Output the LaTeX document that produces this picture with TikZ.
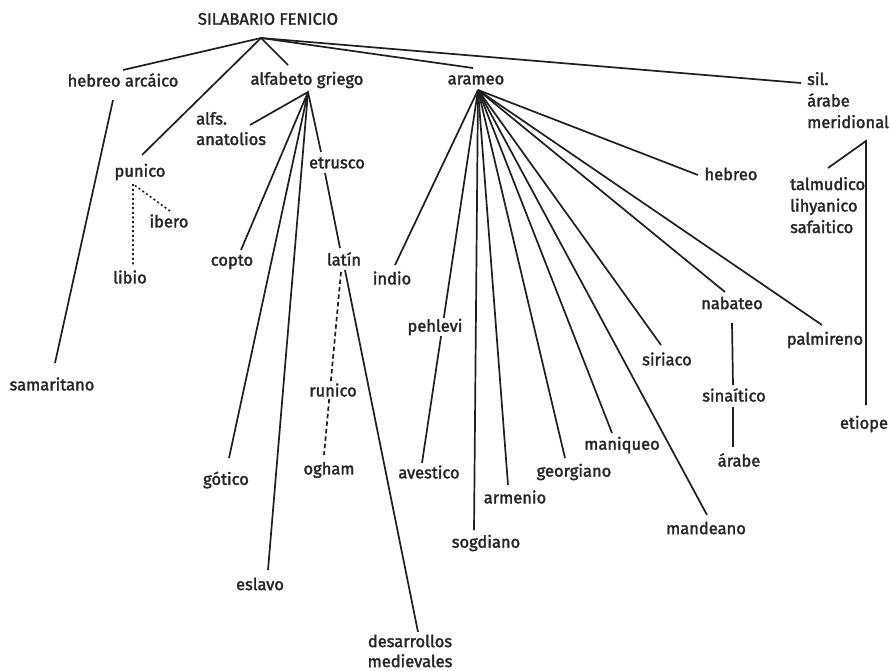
\documentclass[tikz,border=0pt]{standalone}
\usepackage{fontspec}
\setmainfont{Fira Sans}[FakeBold=2]
\begin{document}
\begin{tikzpicture}[x=1pt,y=-1pt]
\tikzset{
  lbl/.style={inner sep=1pt, font=\fontsize{16.5}{21.5}\selectfont, text=black!85},
  lblw/.style={lbl, fill=white},
  ln/.style={line width=1.7pt, draw=black!88},
  dotln/.style={ln, line width=1.6pt, dash pattern=on 2pt off 2.6pt},
  dshln/.style={ln, dash pattern=on 4.5pt off 3pt}
}
\useasboundingbox[fill=white] (0,0) rectangle (891,670);
% hubs and line ends
\coordinate (rootH) at (261,38);
\coordinate (eHebArc) at (123,70);
\coordinate (ePun) at (142,155);
\coordinate (eAlf) at (288,65);
\coordinate (eAra) at (473,68);
\coordinate (eSil) at (801,83);
\coordinate (hebS) at (113,100);
\coordinate (eSam) at (55,363);
\coordinate (punH) at (133,184);
\coordinate (eIbe) at (170,211);
\coordinate (eLib) at (133,266);
\coordinate (alfH) at (308,92);
\coordinate (eAna) at (250,125);
\coordinate (eEtr) at (321,152);
\coordinate (eCop) at (241,250);
\coordinate (eGot) at (229,458);
\coordinate (eEsl) at (268,570);
\coordinate (etrS) at (325,173);
\coordinate (eLat) at (340,248);
\coordinate (latS1) at (345,270);
\coordinate (eDes) at (418,632);
\coordinate (latS2) at (341,272);
\coordinate (eOgh) at (324,455);
\coordinate (araH) at (478,90);
\coordinate (eHeb) at (698,175);
\coordinate (eInd) at (395,265);
\coordinate (eAve) at (422,463);
\coordinate (eSog) at (474,530);
\coordinate (eArm) at (508,485);
\coordinate (eGeo) at (565,458);
\coordinate (eMan) at (612,433);
\coordinate (eSir) at (661,345);
\coordinate (eMnd) at (707,515);
\coordinate (eNab) at (725,292);
\coordinate (ePal) at (822,325);
\coordinate (nabS) at (732,323);
\coordinate (eSin) at (733,385);
\coordinate (sinS) at (733,407);
\coordinate (eArb) at (733,447);
\coordinate (silH) at (866,141);
\coordinate (eTal) at (828,168);
\coordinate (eEti) at (866,405);
% connectors
\draw[ln] (eHebArc) -- (rootH) -- (eAlf);
\draw[ln] (ePun) -- (rootH) -- (eAra);
\draw[ln] (rootH) -- (eSil);
\draw[ln] (hebS) -- (eSam);
\draw[dotln] (eIbe) -- (punH) -- (eLib);
\draw[ln] (eAna) -- (alfH) -- (eEtr);
\draw[ln] (eCop) -- (alfH) -- (eGot);
\draw[ln] (alfH) -- (eEsl);
\draw[ln] (etrS) -- (eLat);
\draw[ln] (latS1) -- (eDes);
\draw[dshln] (latS2) -- (eOgh);
\foreach \e in {eHeb,eInd,eAve,eSog,eArm,eGeo,eMan,eSir,eMnd,eNab,ePal}
  \draw[ln] (araH) -- (\e);
\draw[ln] (nabS) -- (eSin);
\draw[ln] (sinS) -- (eArb);
\draw[ln] (eTal) -- (silH) -- (eEti);
% labels
\node[lbl] (root) at (268,19) {SILABARIO FENICIO};
\node[lbl] (hebArc) at (123,80) {hebreo arcáico};
\node[lbl] (alfGr) at (307,80) {alfabeto griego};
\node[lbl] (arameo) at (476,80) {arameo};
\node[lbl, anchor=base west, align=left] (sil) at (806,128) {sil.\\árabe\\meridional};
\node[lbl] (samaritano) at (52,384) {samaritano};
\node[lbl] (punico) at (140,172) {punico};
\node[lbl] (ibero) at (169,221) {ibero};
\node[lbl] (libio) at (130,277) {libio};
\node[lbl, anchor=base west, align=left, font=\fontsize{16.5}{20.5}\selectfont] (anatol) at (195,145) {alfs.\\anatolios};
\node[lbl] (etrusco) at (337,163) {etrusco};
\node[lbl] (copto) at (232,262) {copto};
\node[lbl] (gotico) at (226,480) {gótico};
\node[lbl] (eslavo) at (260,584) {eslavo};
\node[lbl] (latin) at (344,259) {latín};
\node[lblw] (runico) at (333,390) {runico};
\node[lbl] (ogham) at (329,470) {ogham};
\node[lbl, align=center, font=\fontsize{16.5}{20}\selectfont] (desarr) at (410,651) {desarrollos\\medievales};
\node[lbl] (hebreo) at (731,174) {hebreo};
\node[lbl] (indio) at (392,278) {indio};
\node[lblw] (pehlevi) at (435,327) {pehlevi};
\node[lbl] (avestico) at (429,472) {avestico};
\node[lbl] (sogdiano) at (486,543) {sogdiano};
\node[lbl] (armenio) at (515,497) {armenio};
\node[lbl] (georgiano) at (574,472) {georgiano};
\node[lbl] (maniqueo) at (622,445) {maniqueo};
\node[lbl] (siriaco) at (667,359) {siriaco};
\node[lbl] (mandeano) at (706,528) {mandeano};
\node[lbl] (nabateo) at (732,303) {nabateo};
\node[lbl] (palmireno) at (825,340) {palmireno};
\node[lbl] (sinaitico) at (734,395) {sinaítico};
\node[lbl] (arabe) at (739,460) {árabe};
\node[lbl, anchor=base west, align=left] (talmud) at (789,233) {talmudico\\lihyanico\\safaitico};
\node[lbl] (etiope) at (864,424) {etiope};
\end{tikzpicture}
\end{document}
